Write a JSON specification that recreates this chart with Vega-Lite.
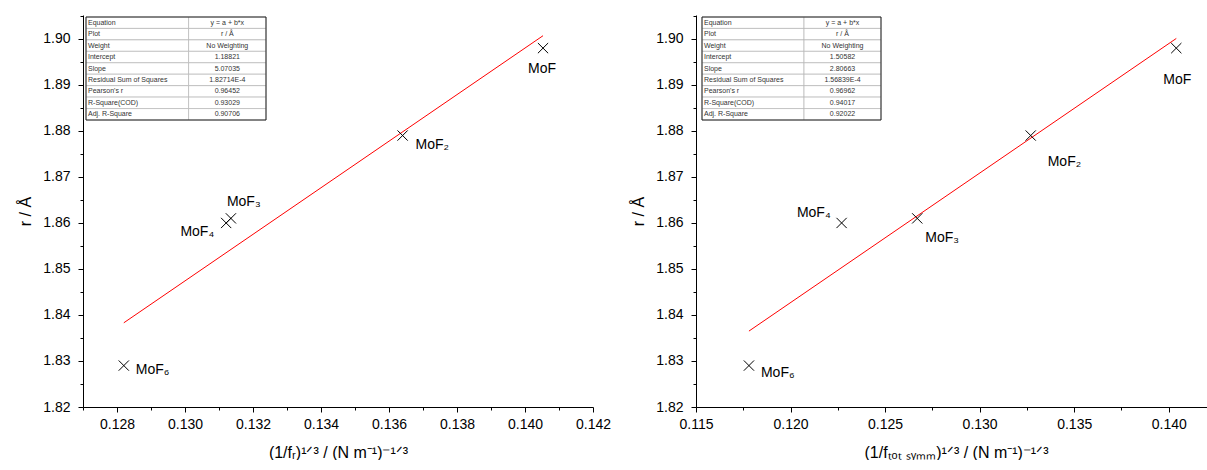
{
  "$schema": "https://vega.github.io/schema/vega-lite/v6.json",
  "padding": {"left": 17, "top": 8, "right": 0, "bottom": 0},
  "autosize": {"type": "pad"},
  "background": "white",
  "datasets": {
    "left": [
      {"name": "MoF", "x": 0.14053, "y": 1.898},
      {"name": "MoF₂", "x": 0.1364, "y": 1.879},
      {"name": "MoF₃", "x": 0.13135, "y": 1.861},
      {"name": "MoF₄", "x": 0.13121, "y": 1.860},
      {"name": "MoF₆", "x": 0.1282, "y": 1.829}
    ],
    "right": [
      {"name": "MoF", "x": 0.1404, "y": 1.898},
      {"name": "MoF₂", "x": 0.1327, "y": 1.879},
      {"name": "MoF₃", "x": 0.1267, "y": 1.861},
      {"name": "MoF₄", "x": 0.1227, "y": 1.860},
      {"name": "MoF₆", "x": 0.1178, "y": 1.829}
    ],
    "leftfit": [
      {"x": 0.1282, "y": 1.8383},
      {"x": 0.14053, "y": 1.9007}
    ],
    "rightfit": [
      {"x": 0.1178, "y": 1.8365},
      {"x": 0.1404, "y": 1.9001}
    ],
    "lefttable": [
      {"k": "Equation", "v": "y = a + b*x"},
      {"k": "Plot", "v": "r / Å"},
      {"k": "Weight", "v": "No Weighting"},
      {"k": "Intercept", "v": "1.18821"},
      {"k": "Slope", "v": "5.07035"},
      {"k": "Residual Sum of Squares", "v": "1.82714E-4"},
      {"k": "Pearson's r", "v": "0.96452"},
      {"k": "R-Square(COD)", "v": "0.93029"},
      {"k": "Adj. R-Square", "v": "0.90706"}
    ],
    "righttable": [
      {"k": "Equation", "v": "y = a + b*x"},
      {"k": "Plot", "v": "r / Å"},
      {"k": "Weight", "v": "No Weighting"},
      {"k": "Intercept", "v": "1.50582"},
      {"k": "Slope", "v": "2.80663"},
      {"k": "Residual Sum of Squares", "v": "1.56839E-4"},
      {"k": "Pearson's r", "v": "0.96962"},
      {"k": "R-Square(COD)", "v": "0.94017"},
      {"k": "Adj. R-Square", "v": "0.92022"}
    ],
    "box": [{"b": 1}]
  },
  "spacing": 19,
  "hconcat": [
    {
      "width": 510,
      "height": 392,
      "layer": [
        {
          "encoding": {
            "x": {"field": "x", "type": "quantitative",
              "scale": {"domain": [0.127, 0.142], "nice": false, "zero": false},
              "axis": {
                "values": [0.127,0.128,0.129,0.130,0.131,0.132,0.133,0.134,0.135,0.136,0.137,0.138,0.139,0.140,0.141,0.142],
                "labelExpr": "round(datum.value*1000) % 2 == 0 ? format(datum.value, '.3f') : ''",
                "tickSize": {"condition": {"test": "round(datum.value*1000) % 2 == 0", "value": 5}, "value": 3},
                "labelFlush": false, "labelOverlap": false, "labelPadding": 5, "titlePadding": 13,
                "title": "(1/fᵣ)¹ᐟ³ / (N m⁻¹)⁻¹ᐟ³"
              }},
            "y": {"field": "y", "type": "quantitative",
              "scale": {"domain": [1.82, 1.9052], "nice": false, "zero": false},
              "axis": {
                "values": [1.82,1.825,1.83,1.835,1.84,1.845,1.85,1.855,1.86,1.865,1.87,1.875,1.88,1.885,1.89,1.895,1.90,1.905],
                "labelExpr": "round(datum.value*1000) % 10 == 0 ? format(datum.value, '.2f') : ''",
                "tickSize": {"condition": {"test": "round(datum.value*1000) % 10 == 0", "value": 5}, "value": 3},
                "labelOverlap": false, "labelPadding": 8, "titlePadding": 9,
                "title": "r / Å"
              }}
          },
          "layer": [
            {"data": {"name": "leftfit"}, "mark": {"type": "line", "color": "#ff0000", "strokeWidth": 1}},
            {"data": {"name": "left"}, "mark": {"type": "point", "shape": "M-1,-1L1,1M1,-1L-1,1", "size": 105, "filled": false, "color": "black", "strokeWidth": 1, "opacity": 1}},
            {"data": {"name": "left"}, "transform": [{"filter": "datum.name == 'MoF'"}], "mark": {"type": "text", "font": "Liberation Sans", "fontSize": 14, "align": "center", "baseline": "middle", "dx": -1, "dy": 21, "color": "black"}, "encoding": {"text": {"field": "name"}}},
            {"data": {"name": "left"}, "transform": [{"filter": "datum.name == 'MoF₂'"}], "mark": {"type": "text", "font": "Liberation Sans", "fontSize": 14, "align": "left", "baseline": "middle", "dx": 13, "dy": 9, "color": "black"}, "encoding": {"text": {"field": "name"}}},
            {"data": {"name": "left"}, "transform": [{"filter": "datum.name == 'MoF₃'"}], "mark": {"type": "text", "font": "Liberation Sans", "fontSize": 14, "align": "left", "baseline": "middle", "dx": -4, "dy": -16, "color": "black"}, "encoding": {"text": {"field": "name"}}},
            {"data": {"name": "left"}, "transform": [{"filter": "datum.name == 'MoF₄'"}], "mark": {"type": "text", "font": "Liberation Sans", "fontSize": 14, "align": "right", "baseline": "middle", "dx": -12, "dy": 9, "color": "black"}, "encoding": {"text": {"field": "name"}}},
            {"data": {"name": "left"}, "transform": [{"filter": "datum.name == 'MoF₆'"}], "mark": {"type": "text", "font": "Liberation Sans", "fontSize": 14, "align": "left", "baseline": "middle", "dx": 12, "dy": 4, "color": "black"}, "encoding": {"text": {"field": "name"}}}
          ]
        },
        {
          "data": {"name": "lefttable"},
          "encoding": {
            "y": {"field": "k", "type": "nominal", "sort": null, "axis": null,
              "scale": {"type": "band", "range": [2, 105], "paddingInner": 0, "paddingOuter": 0}}
          },
          "layer": [
            {"mark": {"type": "rect", "fill": "white", "stroke": "#b5b5b5", "strokeWidth": 0.7},
             "encoding": {"x": {"datum": 0, "type": "quantitative", "axis": null, "scale": {"domain": [0, 1], "range": [3, 183]}}, "x2": {"datum": 0.57}}},
            {"mark": {"type": "rect", "fill": "white", "stroke": "#b5b5b5", "strokeWidth": 0.7},
             "encoding": {"x": {"datum": 0.57, "type": "quantitative"}, "x2": {"datum": 1}}},
            {"mark": {"type": "text", "font": "Liberation Sans", "fontSize": 7, "align": "left", "baseline": "middle", "dx": 2, "color": "#333"},
             "encoding": {"x": {"datum": 0, "type": "quantitative"}, "text": {"field": "k"}}},
            {"mark": {"type": "text", "font": "Liberation Sans", "fontSize": 7, "align": "center", "baseline": "middle", "color": "#333"},
             "encoding": {"x": {"datum": 0.785, "type": "quantitative"}, "text": {"field": "v"}}}
          ]
        },
        {
          "data": {"name": "box"},
          "mark": {"type": "rect", "fill": null, "filled": false, "stroke": "#222", "strokeWidth": 1},
          "encoding": {
            "x": {"datum": 0, "type": "quantitative", "axis": null, "scale": {"domain": [0, 1], "range": [3, 183]}},
            "x2": {"datum": 1},
            "y": {"datum": 0, "type": "quantitative", "axis": null, "scale": {"domain": [0, 1], "range": [2, 105]}},
            "y2": {"datum": 1}
          }
        }
      ],
      "resolve": {"scale": {"x": "independent", "y": "independent"}}
    },
    {
      "width": 520,
      "height": 392,
      "layer": [
        {
          "encoding": {
            "x": {"field": "x", "type": "quantitative",
              "scale": {"domain": [0.115, 0.1425], "nice": false, "zero": false},
              "axis": {
                "values": [0.115,0.1175,0.12,0.1225,0.125,0.1275,0.13,0.1325,0.135,0.1375,0.14,0.1425],
                "labelExpr": "round(datum.value*10000) % 50 == 0 ? format(datum.value, '.3f') : ''",
                "tickSize": {"condition": {"test": "round(datum.value*10000) % 50 == 0", "value": 5}, "value": 3},
                "labelFlush": false, "labelOverlap": false, "labelPadding": 5, "titlePadding": 13,
                "title": "(1/fₜₒₜ ₛᵧₘₘ)¹ᐟ³ / (N m⁻¹)⁻¹ᐟ³"
              }},
            "y": {"field": "y", "type": "quantitative",
              "scale": {"domain": [1.82, 1.9052], "nice": false, "zero": false},
              "axis": {
                "values": [1.82,1.825,1.83,1.835,1.84,1.845,1.85,1.855,1.86,1.865,1.87,1.875,1.88,1.885,1.89,1.895,1.90,1.905],
                "labelExpr": "round(datum.value*1000) % 10 == 0 ? format(datum.value, '.2f') : ''",
                "tickSize": {"condition": {"test": "round(datum.value*1000) % 10 == 0", "value": 5}, "value": 3},
                "labelOverlap": false, "labelPadding": 8, "titlePadding": 9,
                "title": "r / Å"
              }}
          },
          "layer": [
            {"data": {"name": "rightfit"}, "mark": {"type": "line", "color": "#ff0000", "strokeWidth": 1}},
            {"data": {"name": "right"}, "mark": {"type": "point", "shape": "M-1,-1L1,1M1,-1L-1,1", "size": 105, "filled": false, "color": "black", "strokeWidth": 1, "opacity": 1}},
            {"data": {"name": "right"}, "transform": [{"filter": "datum.name == 'MoF'"}], "mark": {"type": "text", "font": "Liberation Sans", "fontSize": 14, "align": "center", "baseline": "middle", "dx": 1, "dy": 32, "color": "black"}, "encoding": {"text": {"field": "name"}}},
            {"data": {"name": "right"}, "transform": [{"filter": "datum.name == 'MoF₂'"}], "mark": {"type": "text", "font": "Liberation Sans", "fontSize": 14, "align": "left", "baseline": "middle", "dx": 17, "dy": 26, "color": "black"}, "encoding": {"text": {"field": "name"}}},
            {"data": {"name": "right"}, "transform": [{"filter": "datum.name == 'MoF₃'"}], "mark": {"type": "text", "font": "Liberation Sans", "fontSize": 14, "align": "left", "baseline": "middle", "dx": 8, "dy": 20, "color": "black"}, "encoding": {"text": {"field": "name"}}},
            {"data": {"name": "right"}, "transform": [{"filter": "datum.name == 'MoF₄'"}], "mark": {"type": "text", "font": "Liberation Sans", "fontSize": 14, "align": "right", "baseline": "middle", "dx": -11, "dy": -10, "color": "black"}, "encoding": {"text": {"field": "name"}}},
            {"data": {"name": "right"}, "transform": [{"filter": "datum.name == 'MoF₆'"}], "mark": {"type": "text", "font": "Liberation Sans", "fontSize": 14, "align": "left", "baseline": "middle", "dx": 12, "dy": 7, "color": "black"}, "encoding": {"text": {"field": "name"}}}
          ]
        },
        {
          "data": {"name": "righttable"},
          "encoding": {
            "y": {"field": "k", "type": "nominal", "sort": null, "axis": null,
              "scale": {"type": "band", "range": [2, 105], "paddingInner": 0, "paddingOuter": 0}}
          },
          "layer": [
            {"mark": {"type": "rect", "fill": "white", "stroke": "#b5b5b5", "strokeWidth": 0.7},
             "encoding": {"x": {"datum": 0, "type": "quantitative", "axis": null, "scale": {"domain": [0, 1], "range": [6, 185]}}, "x2": {"datum": 0.57}}},
            {"mark": {"type": "rect", "fill": "white", "stroke": "#b5b5b5", "strokeWidth": 0.7},
             "encoding": {"x": {"datum": 0.57, "type": "quantitative"}, "x2": {"datum": 1}}},
            {"mark": {"type": "text", "font": "Liberation Sans", "fontSize": 7, "align": "left", "baseline": "middle", "dx": 2, "color": "#333"},
             "encoding": {"x": {"datum": 0, "type": "quantitative"}, "text": {"field": "k"}}},
            {"mark": {"type": "text", "font": "Liberation Sans", "fontSize": 7, "align": "center", "baseline": "middle", "color": "#333"},
             "encoding": {"x": {"datum": 0.785, "type": "quantitative"}, "text": {"field": "v"}}}
          ]
        },
        {
          "data": {"name": "box"},
          "mark": {"type": "rect", "fill": null, "filled": false, "stroke": "#222", "strokeWidth": 1},
          "encoding": {
            "x": {"datum": 0, "type": "quantitative", "axis": null, "scale": {"domain": [0, 1], "range": [6, 185]}},
            "x2": {"datum": 1},
            "y": {"datum": 0, "type": "quantitative", "axis": null, "scale": {"domain": [0, 1], "range": [2, 105]}},
            "y2": {"datum": 1}
          }
        }
      ],
      "resolve": {"scale": {"x": "independent", "y": "independent"}}
    }
  ],
  "config": {
    "view": {"stroke": null},
    "axis": {
      "grid": false,
      "domainColor": "black", "domainWidth": 1,
      "tickColor": "black", "tickWidth": 1,
      "labelColor": "black", "titleColor": "black",
      "labelFont": "Liberation Sans", "titleFont": "Liberation Sans",
      "labelFontSize": 14, "titleFontSize": 16, "titleFontWeight": "normal"
    }
  }
}
